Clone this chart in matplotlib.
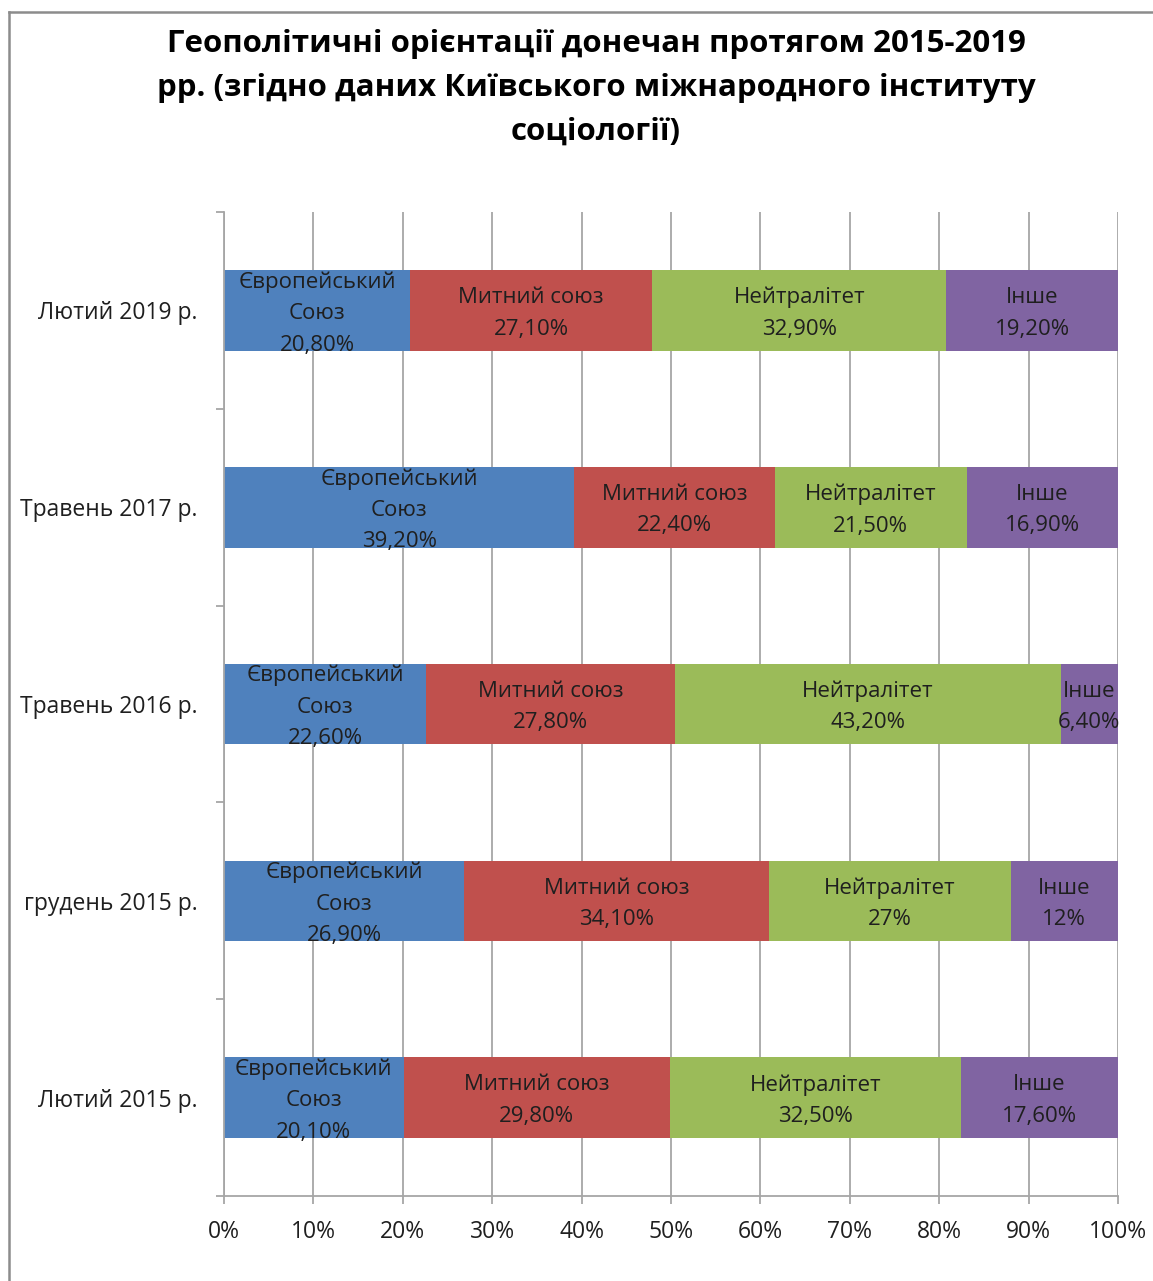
import numpy as np
import matplotlib.pyplot as plt
from matplotlib.lines import Line2D

# Data (percent), bottom to top as drawn
periods = ['Лютий 2015 р.', 'грудень 2015 р.', 'Травень 2016 р.',
           'Травень 2017 р.', 'Лютий 2019 р.']
eu = [20.1, 26.9, 22.6, 39.2, 20.8]
customs = [29.8, 34.1, 27.8, 22.4, 27.1]
neutral = [32.5, 27.0, 43.2, 21.5, 32.9]
other = [17.6, 12.0, 6.4, 16.9, 19.2]

eu_txt = ['20,10%', '26,90%', '22,60%', '39,20%', '20,80%']
customs_txt = ['29,80%', '34,10%', '27,80%', '22,40%', '27,10%']
neutral_txt = ['32,50%', '27%', '43,20%', '21,50%', '32,90%']
other_txt = ['17,60%', '12%', '6,40%', '16,90%', '19,20%']

series = [
    ('Європейський\nСоюз', eu, eu_txt, '#4F81BD'),
    ('Митний союз', customs, customs_txt, '#C0504D'),
    ('Нейтралітет', neutral, neutral_txt, '#9BBB59'),
    ('Інше', other, other_txt, '#8064A2'),
]

plt.rcParams['font.family'] = ['Open Sans', 'DejaVu Sans']
text_color = '#1f1f1f'
grid_color = '#a6a6a6'

fig = plt.figure(figsize=(11.53, 12.81), dpi=100)
ax = fig.add_axes([0.1943, 0.0663, 0.7753, 0.7682])

y = np.arange(len(periods))
left = np.zeros(len(periods))
for name, vals, txts, color in series:
    vals = np.array(vals)
    ax.barh(y, vals, left=left, height=0.41, color=color, zorder=2)
    for yi, v, l, t in zip(y, vals, left, txts):
        ax.text(l + v / 2, yi - 0.015, name + '\n' + t, ha='center', va='center',
                fontsize=16, color=text_color, linespacing=1.65, zorder=3)
    left = left + vals

ax.set_xlim(0, 100)
ax.set_ylim(-0.5, len(periods) - 0.5)
ax.set_xticks(np.arange(0, 101, 10))
ax.set_xticklabels([f'{v}%' for v in range(0, 101, 10)])
ax.set_yticks(y)
ax.set_yticklabels(periods)
ax.set_yticks(np.arange(-0.5, len(periods), 1), minor=True)

ax.grid(axis='x', color=grid_color, linewidth=1.3, zorder=0)
ax.set_axisbelow(True)
for side in ['top', 'right']:
    ax.spines[side].set_visible(False)
for side in ['left', 'bottom']:
    ax.spines[side].set_color(grid_color)
    ax.spines[side].set_linewidth(1.3)

ax.tick_params(axis='x', length=6, width=1.3, color=grid_color, pad=11,
               labelsize=16.5, labelcolor=text_color)
ax.tick_params(axis='y', which='major', length=0, pad=19,
               labelsize=16.5, labelcolor=text_color)
ax.tick_params(axis='y', which='minor', length=6, width=1.3, color=grid_color)

fig.suptitle('Геополітичні орієнтації донечан протягом 2015-2019\n'
             'рр. (згідно даних Київського міжнародного інституту\n'
             'соціології)', x=0.517, y=0.977, fontsize=22.5,
             fontweight='bold', color='black', linespacing=1.6)

# outer chart frame (left and top edges visible)
fig.add_artist(Line2D([9 / 1153, 9 / 1153], [0, 1 - 12 / 1281],
                      transform=fig.transFigure, color='#8c8c8c', linewidth=1.8))
fig.add_artist(Line2D([9 / 1153, 1], [1 - 12 / 1281, 1 - 12 / 1281],
                      transform=fig.transFigure, color='#8c8c8c', linewidth=1.8))

fig.savefig('out.png', dpi=100)
